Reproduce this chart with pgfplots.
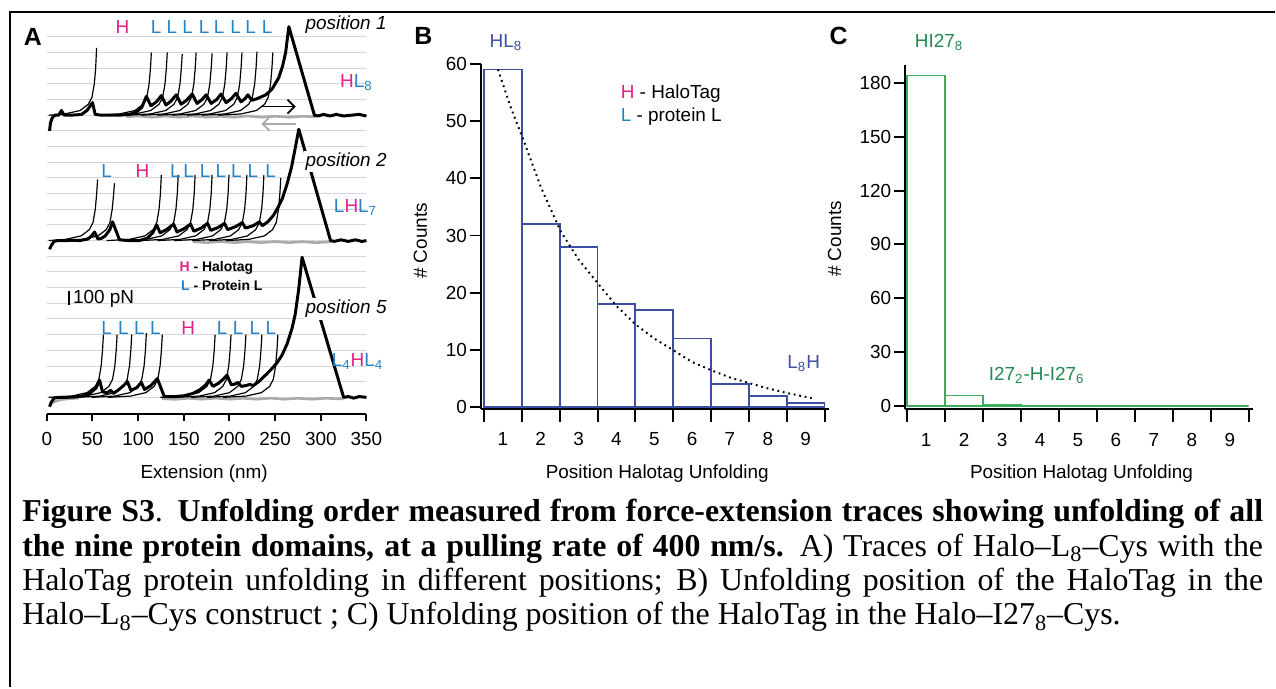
\documentclass[border=0pt]{standalone}
\usepackage{pgfplots}
\pgfplotsset{compat=1.18}
\usetikzlibrary{arrows.meta}
\usepackage{fontspec}
\setmainfont{Liberation Sans}
\newfontfamily\capfont{Liberation Serif}
\definecolor{magH}{RGB}{230,30,135}
\definecolor{bluL}{RGB}{35,130,200}
\definecolor{bluB}{RGB}{62,78,165}
\definecolor{grnC}{RGB}{60,175,95}
\definecolor{grnT}{RGB}{35,135,80}
\definecolor{gridc}{RGB}{212,214,222}
\definecolor{retr}{RGB}{170,170,170}
\newcommand{\fs}{\fontsize{9.5}{11}\selectfont}
\newcommand{\Hm}{\textcolor{magH}{H}}
\newcommand{\Lb}{\textcolor{bluL}{L}}
\pgfplotsset{
  thick trace/.style={black, line width=1.5pt, line join=round},
  thin fit/.style={black, line width=0.6pt},
  retract/.style={retr, line width=1.3pt},
}
\begin{document}
\begin{tikzpicture}
\begin{scope}[x=0.5pt,y=-0.5pt]
\path[use as bounding box] (0,0) rectangle (1276,685);
\end{scope}
% ---------------- Panel A ----------------
\begin{axis}[
  at={(23.5pt,-208pt)}, anchor=south west,
  scale only axis, width=160.5pt, height=197.38pt,
  xmin=0, xmax=350, ymin=-1.08, ymax=24,
  axis lines*=left,
  y axis line style={draw=none},
  x axis line style={line width=1pt},
  xtick={0,50,...,350},
  ytick={0,...,23}, yticklabels={},
  ytick style={draw=none},
  ymajorgrids, grid style={gridc, line width=0.5pt},
  tick align=outside, major tick length=3.5pt,
  xtick style={black, line width=1pt},
  tick label style={font=\fs},
  xticklabel style={yshift=-2pt},
  /pgf/number format/assume math mode=true,
  clip=false,
]
% retraction (grey)
\addplot[retract] coordinates {(87,17.9)(100,17.95)(115,17.87)(130,17.94)(145,17.87)(160,17.95)(175,17.87)(190,17.93)(205,17.87)(220,17.95)(235,17.87)(250,17.93)(265,17.87)(280,17.93)(294,17.9)};
\addplot[retract] coordinates {(160,9.93)(175,9.87)(190,9.94)(205,9.87)(220,9.93)(235,9.87)(250,9.94)(265,9.87)(280,9.93)(295,9.87)(311,9.92)};
\addplot[retract] coordinates {(5,-0.35)(15,-0.15)(25,-0.08)(35,-0.05)};
\addplot[retract] coordinates {(126,-0.08)(140,-0.13)(155,-0.06)(170,-0.12)(185,-0.05)(200,-0.12)(215,-0.06)(230,-0.12)(245,-0.05)(260,-0.12)(275,-0.06)(290,-0.12)(305,-0.06)(325,-0.1)};
% trace 1 fits
\addplot[thin fit] coordinates {(2,18)(19.5,18.08)(36.5,18.3)(45.5,18.7)(49.5,19.15)(52,20.0)(53.5,21.0)(54.5,22.3)};
\addplot[thin fit] coordinates {(54.5,18)(79.5,18.08)(96.5,18.3)(105.5,18.7)(109.5,19.15)(112,20.0)(113.5,21.0)(114.5,22.0)};
\addplot[thin fit] coordinates {(71.9,18)(96.9,18.08)(113.9,18.3)(122.9,18.7)(126.9,19.15)(129.4,20.0)(130.9,21.0)(131.9,22.0)};
\addplot[thin fit] coordinates {(88.3,18)(113.3,18.08)(130.3,18.3)(139.3,18.7)(143.3,19.15)(145.8,20.0)(147.3,21.0)(148.3,21.9)};
\addplot[thin fit] coordinates {(103.5,18)(128.5,18.08)(145.5,18.3)(154.5,18.7)(158.5,19.15)(161,20.0)(162.5,21.0)(163.5,22.0)};
\addplot[thin fit] coordinates {(121,18)(146,18.08)(163,18.3)(172,18.7)(176,19.15)(178.5,20.0)(180,21.0)(181,21.95)};
\addplot[thin fit] coordinates {(137.4,18)(162.4,18.08)(179.4,18.3)(188.4,18.7)(192.4,19.15)(194.9,20.0)(196.4,21.0)(197.4,22.0)};
\addplot[thin fit] coordinates {(153.7,18)(178.7,18.08)(195.7,18.3)(204.7,18.7)(208.7,19.15)(211.2,20.0)(212.7,21.0)(213.7,22.0)};
\addplot[thin fit] coordinates {(170.1,18)(195.1,18.08)(212.1,18.3)(221.1,18.7)(225.1,19.15)(227.6,20.0)(229.1,21.0)(230.1,22.05)};
\addplot[thin fit] coordinates {(187.5,18)(212.5,18.08)(229.5,18.3)(238.5,18.7)(242.5,19.15)(245,20.0)(246.5,21.0)(247.5,22.0)};
% trace 2 fits
\addplot[thin fit] coordinates {(2,10)(20.6,10.08)(37.6,10.3)(46.6,10.7)(50.6,11.15)(53.1,12.0)(54.6,13.0)(55.6,13.9)};
\addplot[thin fit] coordinates {(14.1,10)(39.1,10.08)(56.1,10.3)(65.1,10.7)(69.1,11.15)(71.6,12.0)(73.1,12.9)(74.1,13.66)};
\addplot[thin fit] coordinates {(65.4,10)(90.4,10.08)(107.4,10.3)(116.4,10.7)(120.4,11.15)(122.9,12.0)(124.4,13.0)(125.4,14.2)};
\addplot[thin fit] coordinates {(83.9,10)(108.9,10.08)(125.9,10.3)(134.9,10.7)(138.9,11.15)(141.4,12.0)(142.9,13.0)(143.9,14.2)};
\addplot[thin fit] coordinates {(102.4,10)(127.4,10.08)(144.4,10.3)(153.4,10.7)(157.4,11.15)(159.9,12.0)(161.4,13.0)(162.4,14.2)};
\addplot[thin fit] coordinates {(121,10)(146,10.08)(163,10.3)(172,10.7)(176,11.15)(178.5,12.0)(180,13.0)(181,14.2)};
\addplot[thin fit] coordinates {(139.5,10)(164.5,10.08)(181.5,10.3)(190.5,10.7)(194.5,11.15)(197,12.0)(198.5,13.0)(199.5,14.2)};
\addplot[thin fit] coordinates {(159.1,10)(184.1,10.08)(201.1,10.3)(210.1,10.7)(214.1,11.15)(216.6,12.0)(218.1,13.0)(219.1,14.2)};
\addplot[thin fit] coordinates {(177.7,10)(202.7,10.08)(219.7,10.3)(228.7,10.7)(232.7,11.15)(235.2,12.0)(236.7,13.0)(237.7,14.2)};
\addplot[thin fit] coordinates {(196.2,10)(221.2,10.08)(238.2,10.3)(247.2,10.7)(251.2,11.15)(253.7,12.0)(255.2,13.0)(256.2,14.0)};
% trace 3 fits
\addplot[thin fit] coordinates {(2,0)(27,0.08)(44,0.3)(53,0.7)(57,1.15)(59.5,2.0)(61,3.0)(62,4.0)};
\addplot[thin fit] coordinates {(17,0)(42,0.08)(59,0.3)(68,0.7)(72,1.15)(74.5,2.0)(76,3.0)(77,4.0)};
\addplot[thin fit] coordinates {(33,0)(58,0.08)(75,0.3)(84,0.7)(88,1.15)(90.5,2.0)(92,3.0)(93,4.0)};
\addplot[thin fit] coordinates {(49,0)(74,0.08)(91,0.3)(100,0.7)(104,1.15)(106.5,2.0)(108,3.0)(109,4.1)};
\addplot[thin fit] coordinates {(66.5,0)(91.5,0.08)(108.5,0.3)(117.5,0.7)(121.5,1.15)(124,2.0)(125.5,3.0)(126.5,4.0)};
\addplot[thin fit] coordinates {(124.3,0)(149.3,0.08)(166.3,0.3)(175.3,0.7)(179.3,1.15)(181.8,2.0)(183.3,3.0)(184.3,4.0)};
\addplot[thin fit] coordinates {(141.7,0)(166.7,0.08)(183.7,0.3)(192.7,0.7)(196.7,1.15)(199.2,2.0)(200.7,3.0)(201.7,4.0)};
\addplot[thin fit] coordinates {(158,0)(183,0.08)(200,0.3)(209,0.7)(213,1.15)(215.5,2.0)(217,3.0)(218,4.0)};
\addplot[thin fit] coordinates {(175.5,0)(200.5,0.08)(217.5,0.3)(226.5,0.7)(230.5,1.15)(233,2.0)(234.5,3.0)(235.5,4.0)};
\addplot[thin fit] coordinates {(193,0)(218,0.08)(235,0.3)(244,0.7)(248,1.15)(250.5,2.0)(252,3.0)(253,4.0)};
% thick traces
\addplot[thick trace] coordinates {(3,17.0)(4,17.5)(6,17.85)(9,18.0)(13,18.0)(16,18.3)(19,18.0)(25,18.0)(32,18.02)(38,18.05)(44,18.3)(50,18.8)(53,18.05)(60,18.0)(70,18.0)(79.6,18.0)(90,18.05)(98,18.2)(104,18.5)(109,19.2)(114,18.6)(120,18.85)(125.4,19.25)(130.5,18.65)(136,18.9)(141.7,19.3)(147,18.7)(153,18.95)(159.2,19.35)(164.5,18.75)(170,19.0)(174.4,19.3)(180,18.75)(186,19.0)(190.8,19.35)(196.3,18.8)(202,19.05)(207.2,19.4)(212.6,18.85)(217,19.05)(220.2,19.3)(224.6,18.95)(230,19.05)(240,19.3)(247,19.7)(254,20.4)(258,21.1)(261.5,22.0)(265,23.65)(293,18.0)(297,17.95)(303,18.05)(310,17.95)(317,18.05)(325,17.95)(333,18.0)(342,18.05)(350,17.95)};
\addplot[thick trace] coordinates {(3,9.45)(5,9.7)(8,9.95)(12,10.0)(20,10.0)(30,10.02)(36,10.0)(45,10.1)(49,10.3)(52.3,10.55)(56,10.1)(60,10.15)(64,10.3)(69,10.7)(72,11.2)(79.6,10.05)(90,10.0)(101,10.0)(110,10.15)(116,10.5)(120.4,11.0)(124,10.5)(131,10.7)(138.9,11.05)(142.5,10.55)(150,10.75)(157.4,11.05)(161,10.6)(169,10.8)(176,11.1)(179.5,10.65)(188,10.85)(194.5,11.1)(198,10.7)(207,10.9)(214.1,11.15)(217.5,10.8)(226,10.95)(232.7,11.2)(236,10.95)(242,11.2)(248,11.6)(253,12.1)(258,12.7)(263,13.6)(268,14.7)(272,15.9)(275.9,17.1)(310.7,10.0)(315,9.95)(322,10.05)(330,9.95)(338,10.05)(345,9.95)(350,10.0)};
\addplot[thick trace] coordinates {(3,-0.6)(5,-0.3)(8,-0.05)(12,0.0)(20,0.0)(30,0.02)(40,0.1)(48,0.3)(54,0.6)(57.8,1.1)(61,0.35)(66,0.3)(70,0.45)(73,0.25)(79,0.5)(84,0.75)(88.3,1.0)(92,0.45)(98,0.6)(103.6,0.95)(107,0.5)(114,0.75)(121,1.2)(128.7,0.04)(140,0.05)(150,0.1)(160,0.25)(168,0.5)(174,0.8)(177.7,1.1)(182,0.7)(188,0.9)(193,1.15)(197.3,1.42)(202,0.8)(206,0.85)(209.3,0.95)(213,0.7)(218,0.75)(222.4,0.83)(226,0.75)(232,1.0)(239.5,1.42)(246,1.8)(252,2.2)(257.6,2.7)(263,3.4)(268.5,4.4)(272,5.3)(275.8,6.9)(279.5,8.94)(325,0.0)(330,0.05)(336,-0.05)(342,0.05)(350,0.0)};
\draw[-{Straight Barb[length=3.5pt]}, line width=0.9pt, black] (axis cs:235.5,18.55) -- (axis cs:272.6,18.55);
\draw[-{Straight Barb[length=3.5pt]}, line width=0.9pt, retr] (axis cs:272.6,17.45) -- (axis cs:235,17.45);
\end{axis}
% ---------------- Panel B ----------------
\begin{axis}[
  at={(241.5pt,-205.2pt)}, anchor=south west,
  scale only axis, width=174.5pt, height=173.2pt,
  xmin=0.421, xmax=9.605, ymin=-0.25, ymax=60,
  axis lines*=left, axis line style={line width=1.1pt},
  xtick={1,...,9}, minor xtick={0.5,1.5,...,9.5},
  ytick={0,10,...,60},
  tick align=outside,
  major tick length=5.5pt, minor tick length=6.5pt,
  tick style={black, line width=1pt},
  major x tick style={draw=none},
  tick label style={font=\fs},
  xticklabel style={yshift=-3pt},
  yticklabel style={xshift=2pt},
  /pgf/number format/assume math mode=true,
  clip=false,
]
\addplot[ybar, bar width=1, bar shift=0, draw=bluB, fill=white, line width=0.9pt]
  coordinates {(1,59)(2,32)(3,28)(4,18)(5,17)(6,12)(7,4)(8,2)(9,0.8)};
\addplot[black, line width=1pt, dash pattern=on 0.9pt off 1.9pt]
  coordinates {(0.87,59)(1.2,52.5)(1.53,46.9)(2.0,38.5)(2.52,30.8)(3.0,25.8)(3.5,21.7)(4.0,17.7)(4.5,14.5)(5.0,12.0)(5.52,9.9)(6.0,7.9)(6.53,6.4)(7.0,5.2)(7.52,4.2)(8.0,3.3)(8.5,2.5)(9.16,1.6)};
\end{axis}
% ---------------- Panel C ----------------
\begin{axis}[
  at={(454.5pt,-205.45pt)}, anchor=south west,
  scale only axis, width=174.45pt, height=173pt,
  xmin=0.4475, xmax=9.605, ymin=-1.6, ymax=190,
  axis lines*=left, axis line style={line width=1.1pt},
  xtick={1,...,9}, minor xtick={0.5,1.5,...,9.5},
  ytick={0,30,...,180},
  tick align=outside,
  major tick length=5.5pt, minor tick length=6.5pt,
  tick style={black, line width=1pt},
  major x tick style={draw=none},
  tick label style={font=\fs},
  xticklabel style={yshift=-3pt},
  yticklabel style={xshift=2pt},
  /pgf/number format/assume math mode=true,
  clip=false,
]
\addplot[ybar, bar width=1, bar shift=0, draw=grnC, fill=white, line width=0.9pt]
  coordinates {(1,184)(2,6)(3,1)(4,0)(5,0)(6,0)(7,0)(8,0)(9,0)};
\end{axis}
% ---------------- texts ----------------
\begin{scope}[x=0.5pt,y=-0.5pt]
\draw[line width=1.3pt] (10,690) -- (10,12) -- (1280,12);
% panel letters
\node[font=\fontsize{12.5}{14}\selectfont\bfseries] at (33,37) {A};
\node[font=\fontsize{12.5}{14}\selectfont\bfseries] at (425,36) {B};
\node[font=\fontsize{12.5}{14}\selectfont\bfseries] at (842,36) {C};
% trace 1 labels
\node[font=\fs, magH, inner sep=0] at (123,27) {H};
\foreach \xx in {156.7,172.7,188.3,205,220,236.7,251.7,268.3}
  \node[font=\fs, bluL, inner sep=0] at (\xx,27) {L};
\node[font=\fs\itshape, inner sep=1pt] at (347.5,25) {position 1};
\node[font=\fs, inner sep=0] at (358,83) {\Hm\textcolor{bluL}{L\textsubscript{8}}};
% trace 2 labels
\node[font=\fs, bluL, inner sep=0] at (107,172) {L};
\node[font=\fs, magH, inner sep=0] at (143,172) {H};
\foreach \xx in {176,189.3,206,221.7,237.3,254,271.7}
  \node[font=\fs, bluL, inner sep=0] at (\xx,172) {L};
\node[font=\fs\itshape, fill=white, inner sep=1pt] at (347.5,162) {position 2};
\node[font=\fs, inner sep=0] at (357,208) {\textcolor{bluL}{L}\Hm\textcolor{bluL}{L\textsubscript{7}}};
% trace 3 labels
\foreach \xx in {107,124,140,156,223,239,256,272}
  \node[font=\fs, bluL, inner sep=0] at (\xx,329) {L};
\node[font=\fs, magH, inner sep=0] at (189,329) {H};
\node[font=\fs\itshape, fill=white, inner sep=1pt] at (347.5,310) {position 5};
\node[font=\fs, inner sep=0] at (359,363) {\textcolor{bluL}{L\textsubscript{4}}\Hm\textcolor{bluL}{L\textsubscript{4}}};
% legend A
\node[font=\fontsize{7}{8}\selectfont\bfseries, anchor=west, inner sep=0] at (180,269) {\Hm{} - Halotag};
\node[font=\fontsize{7}{8}\selectfont\bfseries, anchor=west, inner sep=0] at (181.5,287) {\Lb{} - Protein L};
% scale bar
\draw[line width=0.8pt] (69,292) -- (69,306);
\node[font=\fs, anchor=west, inner sep=0] at (73,300) {100 pN};
% axis labels
\node[font=\fs] at (205,476) {Extension (nm)};
\node[font=\fs] at (660,476) {Position Halotag Unfolding};
\node[font=\fs] at (1086,476) {Position Halotag Unfolding};
\node[font=\fs, rotate=90] at (422,242) {\# Counts};
\node[font=\fs, rotate=90] at (838,240) {\# Counts};
% panel B labels
\node[font=\fs, bluB, inner sep=0] at (508,43) {HL\textsubscript{8}};
\node[font=\fs, anchor=west, inner sep=0] at (623,94) {\Hm{} - HaloTag};
\node[font=\fs, anchor=west, inner sep=0] at (623,117) {\Lb{} - protein L};
\node[font=\fs, bluB, inner sep=0] at (807,365) {L\textsubscript{8}H};
% panel C labels
\node[font=\fs, grnT, inner sep=0] at (943,43) {HI27\textsubscript{8}};
\node[font=\fs, grnT, inner sep=0] at (1041,377) {I27\textsubscript{2}-H-I27\textsubscript{6}};
% caption
\node[anchor=base west, inner sep=0, font=\capfont\fontsize{16}{19}\selectfont] at (22,524)
  {\hbox to 623pt{\textbf{Figure S3}. \textbf{Unfolding order measured from force-extension traces showing unfolding of all}}};
\node[anchor=base west, inner sep=0, font=\capfont\fontsize{16}{19}\selectfont] at (22,558.5)
  {\hbox to 623pt{\textbf{the nine protein domains, at a pulling rate of 400 nm/s.} A) Traces of Halo–L\textsubscript{8}–Cys with the}};
\node[anchor=base west, inner sep=0, font=\capfont\fontsize{16}{19}\selectfont] at (22,593)
  {\hbox to 623pt{HaloTag protein unfolding in different positions; B) Unfolding position of the HaloTag in the}};
\node[anchor=base west, inner sep=0, font=\capfont\fontsize{16}{19}\selectfont] at (22,627.5)
  {Halo–L\textsubscript{8}–Cys construct ; C) Unfolding position of the HaloTag in the Halo–I27\textsubscript{8}–Cys.};
\end{scope}
\end{tikzpicture}
\end{document}
